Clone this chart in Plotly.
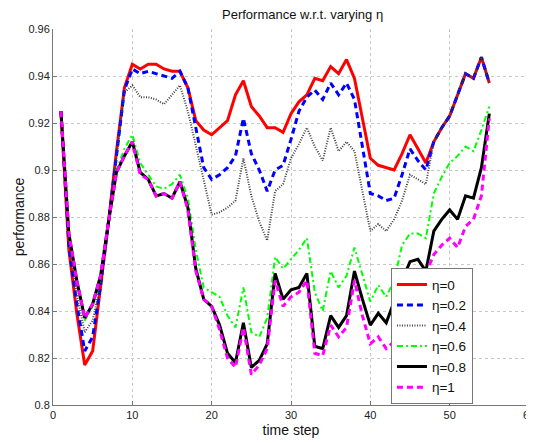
import plotly.graph_objs as go

# time steps 1..55
steps = list(range(1, 56))

eta_0 = [0.925, 0.866, 0.839, 0.817, 0.823, 0.850, 0.878, 0.908, 0.935, 0.945,
         0.943, 0.945, 0.945, 0.943, 0.942, 0.942, 0.935, 0.921, 0.917, 0.915,
         0.918, 0.921, 0.932, 0.938, 0.927, 0.923, 0.918, 0.918, 0.916, 0.924,
         0.929, 0.932, 0.939, 0.938, 0.944, 0.941, 0.947, 0.939, 0.922, 0.905,
         0.902, 0.901, 0.900, 0.907, 0.915, 0.909, 0.903, 0.912, 0.918, 0.923,
         0.932, 0.941, 0.939, 0.948, 0.937]

eta_02 = [0.925, 0.868, 0.843, 0.823, 0.829, 0.851, 0.878, 0.907, 0.934, 0.943,
          0.941, 0.942, 0.941, 0.940, 0.939, 0.942, 0.935, 0.918, 0.901, 0.896,
          0.898, 0.901, 0.906, 0.922, 0.907, 0.900, 0.891, 0.900, 0.902, 0.913,
          0.925, 0.931, 0.934, 0.930, 0.937, 0.932, 0.937, 0.930, 0.910, 0.890,
          0.889, 0.887, 0.888, 0.898, 0.909, 0.904, 0.900, 0.912, 0.918, 0.923,
          0.932, 0.941, 0.939, 0.948, 0.937]

eta_04 = [0.925, 0.870, 0.847, 0.831, 0.836, 0.852, 0.878, 0.906, 0.933, 0.936,
          0.931, 0.931, 0.930, 0.928, 0.932, 0.936, 0.925, 0.910, 0.895, 0.881,
          0.882, 0.884, 0.887, 0.905, 0.889, 0.878, 0.870, 0.891, 0.894, 0.905,
          0.911, 0.918, 0.910, 0.904, 0.918, 0.908, 0.912, 0.908, 0.891, 0.874,
          0.877, 0.874, 0.879, 0.887, 0.898, 0.896, 0.894, 0.912, 0.918, 0.923,
          0.932, 0.941, 0.939, 0.948, 0.937]

eta_06 = [0.925, 0.872, 0.852, 0.836, 0.842, 0.854, 0.878, 0.900, 0.909, 0.915,
          0.903, 0.898, 0.893, 0.892, 0.894, 0.898, 0.888, 0.866, 0.850, 0.848,
          0.846, 0.838, 0.833, 0.850, 0.831, 0.829, 0.837, 0.863, 0.858, 0.862,
          0.866, 0.871, 0.848, 0.840, 0.857, 0.850, 0.855, 0.867, 0.855, 0.844,
          0.851, 0.846, 0.853, 0.868, 0.873, 0.873, 0.871, 0.890, 0.897, 0.903,
          0.906, 0.910, 0.908, 0.917, 0.927]

eta_08 = [0.925, 0.873, 0.853, 0.837, 0.843, 0.855, 0.878, 0.899, 0.906, 0.912,
          0.899, 0.896, 0.889, 0.890, 0.888, 0.895, 0.884, 0.858, 0.845, 0.842,
          0.834, 0.822, 0.818, 0.835, 0.816, 0.819, 0.826, 0.856, 0.845, 0.849,
          0.850, 0.856, 0.825, 0.824, 0.838, 0.833, 0.838, 0.857, 0.845, 0.834,
          0.839, 0.835, 0.844, 0.853, 0.861, 0.862, 0.857, 0.874, 0.879, 0.883,
          0.879, 0.889, 0.888, 0.901, 0.924]

eta_1 = [0.925, 0.873, 0.853, 0.837, 0.843, 0.855, 0.878, 0.899, 0.906, 0.912,
         0.898, 0.896, 0.889, 0.890, 0.888, 0.895, 0.883, 0.857, 0.845, 0.842,
         0.832, 0.820, 0.816, 0.833, 0.813, 0.817, 0.824, 0.853, 0.842, 0.846,
         0.848, 0.853, 0.822, 0.821, 0.834, 0.829, 0.833, 0.853, 0.838, 0.826,
         0.829, 0.824, 0.827, 0.835, 0.843, 0.850, 0.856, 0.864, 0.868, 0.871,
         0.867, 0.876, 0.879, 0.889, 0.922]

y_ticks = [0.8, 0.82, 0.84, 0.86, 0.88, 0.9, 0.92, 0.94, 0.96]
x_ticks = [0, 10, 20, 30, 40, 50, 60]

fig = go.Figure()

# estilos tipo matlab
series = [
    ("η=0", eta_0, "#ff0000", "solid", 3),
    ("η=0.2", eta_02, "#0000ff", "6px,4px", 3),
    ("η=0.4", eta_04, "#404040", "1px,1.5px", 2),
    ("η=0.6", eta_06, "#00ff00", "6px,3px,2px,3px", 2),
    ("η=0.8", eta_08, "#000000", "solid", 3),
    ("η=1", eta_1, "#ff00ff", "6px,4px", 3),
]
for name, vals, color, dash, width in series:
    fig.add_trace(go.Scatter(x=steps, y=vals, name=name, mode="lines",
                             line=dict(color=color, dash=dash, width=width)))

axis_font = dict(family="Liberation Sans, Arial, sans-serif", size=11, color="#222222")

# la pagina tiene 8px de margen en el body
fig.update_layout(
    width=526, height=435,
    margin=dict(l=45, r=5, t=21, b=38),
    paper_bgcolor="white", plot_bgcolor="white",
    font=dict(family="Liberation Sans, Arial, sans-serif", color="#111111"),
    title=dict(text="Performance w.r.t. varying η", x=0.56, xanchor="center",
               y=0.985, yanchor="middle", font=dict(size=13, color="#111111")),
    xaxis=dict(range=[0, 60], tickvals=x_ticks, tickfont=axis_font, automargin=False,
               ticklabeloverflow="allow",
               showgrid=True, gridcolor="#c8c8c8", griddash="dot", gridwidth=1,
               showline=True, linecolor="#777777", linewidth=1,
               ticks="inside", ticklen=4, tickcolor="#777777", zeroline=False,
               title=dict(text="time step", font=dict(size=14), standoff=4)),
    yaxis=dict(range=[0.8, 0.96], tickvals=y_ticks, tickfont=axis_font, automargin=False,
               showgrid=True, gridcolor="#c8c8c8", griddash="dot", gridwidth=1,
               showline=True, linecolor="#777777", linewidth=1,
               ticks="inside", ticklen=4, tickcolor="#777777", zeroline=False,
               title=dict(text="performance", font=dict(size=14), standoff=0)),
    legend=dict(x=0.71, y=0.364, xanchor="left", yanchor="top",
                bgcolor="white", bordercolor="#777777", borderwidth=1,
                font=dict(size=13.5, color="#111111"), tracegroupgap=0),
    showlegend=True,
)

fig.write_html("out.html")
